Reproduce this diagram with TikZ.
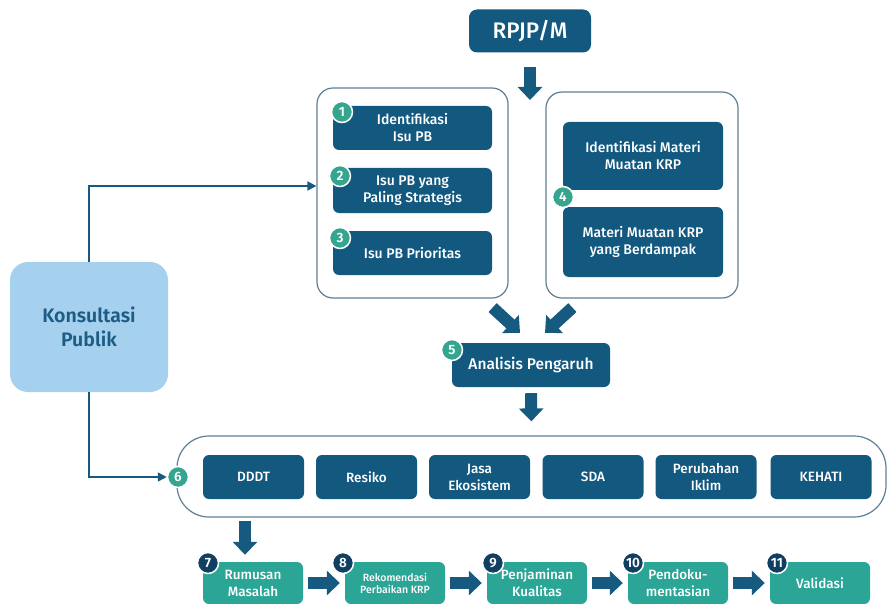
\documentclass[tikz,border=0pt]{standalone}
\usepackage{fontspec}
\setmainfont{Fira Sans}[UprightFont=* Medium,BoldFont=* SemiBold]
\usetikzlibrary{arrows.meta}

\definecolor{boxblue}{HTML}{13587F}
\definecolor{boxteal}{HTML}{2AA596}
\definecolor{badgeteal}{HTML}{35A58F}
\definecolor{badgenavy}{HTML}{103F62}
\definecolor{framegray}{HTML}{5F7F95}
\definecolor{konsulfill}{HTML}{A6D1EE}
\definecolor{konsultext}{HTML}{1D5C85}
\definecolor{arrowblue}{HTML}{175A80}

\begin{document}
\begin{tikzpicture}
  [x=1pt,y=-1pt,
   box/.style={rectangle,rounded corners=6pt,fill=boxblue,text=white,align=center,
     inner sep=2pt,font=\fontsize{14}{17}\selectfont},
   rowbox/.style={box,minimum width=101pt,minimum height=44pt,font=\fontsize{13.5}{17}\selectfont},
   stepteal/.style={box,fill=boxteal,minimum width=100pt,minimum height=42pt,font=\fontsize{13.5}{17}\selectfont},
   group/.style={rectangle,rounded corners=16pt,draw=framegray,line width=1.2pt},
   badge/.style={circle,fill=badgeteal,draw=white,line width=1.5pt,text=white,inner sep=0pt,
     minimum size=21pt,font=\bfseries\fontsize{13.5}{13.5}\selectfont},
   badgenv/.style={badge,fill=badgenavy},
   link/.style={draw=arrowblue,line width=1.6pt,-{Triangle[width=9pt,length=9pt]}},
   bigarrow/.style={draw=arrowblue,line width=12pt,-{Triangle[width=24pt,length=13pt]}}]
  \useasboundingbox (0,0) rectangle (888,604);

  % top part
  \node[box,rounded corners=8pt,minimum width=122pt,minimum height=43pt,
    font=\fontsize{22.5}{22.5}\selectfont] (rpjp) at (530,31) {RPJP/M};
  \coordinate (gapTop) at (530,100);

  \node[group,minimum width=191pt,minimum height=210pt] (grpA) at (412.5,193) {};
  \node[group,minimum width=192pt,minimum height=206pt] (grpB) at (642,195) {};

  \node[box,minimum width=159pt,minimum height=44pt] (b1) at (412.5,128) {Identifikasi\\Isu PB};
  \node[box,minimum width=159pt,minimum height=45pt] (b2) at (412.5,190.5) {Isu PB yang\\Paling Strategis};
  \node[box,minimum width=159pt,minimum height=44pt] (b3) at (412.5,253) {Isu PB Prioritas};
  \node[box,minimum width=160pt,minimum height=68pt] (b4a) at (643,156) {Identifikasi Materi\\Muatan KRP};
  \node[box,minimum width=160pt,minimum height=70pt] (b4b) at (643,242) {Materi Muatan KRP\\yang Berdampak};

  \node[box,minimum width=158pt,minimum height=44pt,font=\fontsize{15.5}{16}\selectfont]
    (analisis) at (531,365) {Analisis Pengaruh};

  % kajian row
  \node[group,rounded corners=32pt,minimum width=709pt,minimum height=81pt] (grpC) at (531.5,476.5) {};
  \node[rowbox] (r1) at (253.5,477) {DDDT};
  \node[rowbox] (r2) at (366.5,477) {Resiko};
  \node[rowbox] (r3) at (479.5,477) {Jasa\\Ekosistem};
  \node[rowbox] (r4) at (593,477) {SDA};
  \node[rowbox] (r5) at (706,477) {Perubahan\\Iklim};
  \node[rowbox] (r6) at (821,477) {KEHATI};

  % konsultasi publik
  \node[rectangle,rounded corners=18pt,fill=konsulfill,text=konsultext,align=center,
    minimum width=158pt,minimum height=130pt,font=\bfseries\fontsize{19.5}{24}\selectfont]
    (konsul) at (89,327) {Konsultasi\\Publik};

  % bottom steps
  \node[stepteal] (s7) at (253,583) {Rumusan\\Masalah};
  \node[stepteal,font=\fontsize{10.5}{12}\selectfont] (s8) at (395,583) {Rekomendasi\\Perbaikan KRP};
  \node[stepteal] (s9) at (537,583) {Penjaminan\\Kualitas};
  \node[stepteal] (s10) at (678,583) {Pendoku-\\mentasian};
  \node[stepteal] (s11) at (820,583) {Validasi};

  % numbers
  \node[badge] (n1) at (342,112) {1};
  \node[badge] (n2) at (340,176) {2};
  \node[badge] (n3) at (340,238) {3};
  \node[badge] (n4) at (563,197) {4};
  \node[badge] (n5) at (452,350) {5};
  \node[badge] (n6) at (178,477) {6};
  \node[badgenv] (n7) at (208,563) {7};
  \node[badgenv] (n8) at (343,563) {8};
  \node[badgenv] (n9) at (493,563) {9};
  \node[badgenv] (n10) at (633,563) {10};
  \node[badgenv] (n11) at (777,563) {11};

  % arrows
  \draw[link] (konsul.north) |- ([yshift=7pt]grpA.west);
  \draw[link] (konsul.south) |- (n6.west);

  \draw[bigarrow,shorten <=14pt] (rpjp.south) -- (gapTop);
  \draw[bigarrow] ([shift={(-16,9)}]grpA.south east) -- ([shift={(-11,-10)}]analisis.north);
  \draw[bigarrow] ([shift={(27,9)}]grpB.south west) -- ([shift={(14,-10)}]analisis.north);
  \draw[bigarrow,shorten <=6pt,shorten >=14pt] (analisis.south) -- (grpC.north);
  \draw[bigarrow] ([shift={(-8,3)}]grpC.south -| s7.north) -- ([shift={(-8,-7)}]s7.north);

  \foreach \from/\to in {s7/s8,s8/s9,s9/s10,s10/s11}
    \draw[bigarrow,shorten <=5pt,shorten >=5pt] (\from) -- (\to);

\end{tikzpicture}
\end{document}
